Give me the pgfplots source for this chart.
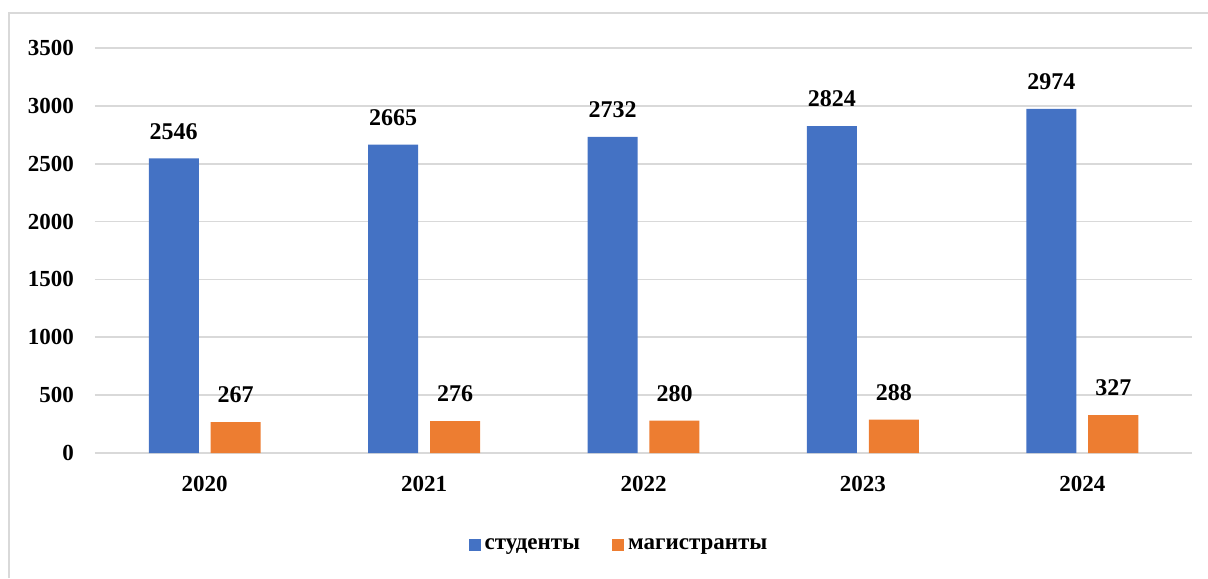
\documentclass[border=0pt]{standalone}
\usepackage{fontspec}
\setmainfont{Liberation Serif}
\usepackage{pgfplots}
\pgfplotsset{compat=1.18}
\definecolor{cblue}{HTML}{4472C4}
\definecolor{corange}{HTML}{ED7D31}
\definecolor{cgrid}{HTML}{D9D9D9}
\begin{document}
\begin{tikzpicture}
\useasboundingbox (0,0) rectangle (604pt,289pt);
\draw[cgrid, line width=0.8pt] (4.5pt,0) -- (4.5pt,282.5pt) -- (604pt,282.5pt);
\begin{axis}[
  at={(47.5pt,62.5pt)}, anchor=south west,
  scale only axis, width=548.5pt, height=202.5pt,
  xmin=-0.5, xmax=4.5, ymin=0, ymax=3500,
  ytick={0,500,...,3500},
  xtick={0,1,2,3,4}, xticklabels={2020,2021,2022,2023,2024},
  axis line style={draw=none},
  major tick length=0pt,
  ymajorgrids, grid style={cgrid, line width=0.8pt},
  font=\fontsize{11.5}{13}\selectfont\bfseries,
  /pgf/number format/assume math mode=true,
  /pgf/number format/1000 sep={},
  yticklabel style={xshift=-7pt},
  xticklabel style={yshift=-8pt},
  nodes near coords, 
  every node near coord/.append style={font=\fontsize{12}{13}\selectfont\bfseries, yshift=6pt},
  legend columns=2,
  legend style={at={(0.4786,-0.2296)}, anchor=center, draw=none, fill=none,
    font=\fontsize{11.5}{13}\selectfont\bfseries,
    /tikz/every even column/.append style={column sep=14pt}},
  legend image code/.code={\fill[#1] (0pt,-2.3pt) rectangle (6pt,3.7pt);},
]
\addplot[ybar, bar width=0.228, bar shift=-0.141, fill=cblue, draw=none,
  every node near coord/.append style={xshift=-15.5pt}] coordinates {(0,2546) (1,2665) (2,2732) (3,2824) (4,2974)};
\addlegendentry{студенты}
\addplot[ybar, bar width=0.228, bar shift=0.141, fill=corange, draw=none,
  every node near coord/.append style={xshift=15.5pt}] coordinates {(0,267) (1,276) (2,280) (3,288) (4,327)};
\addlegendentry{магистранты}
\end{axis}
\end{tikzpicture}
\end{document}
